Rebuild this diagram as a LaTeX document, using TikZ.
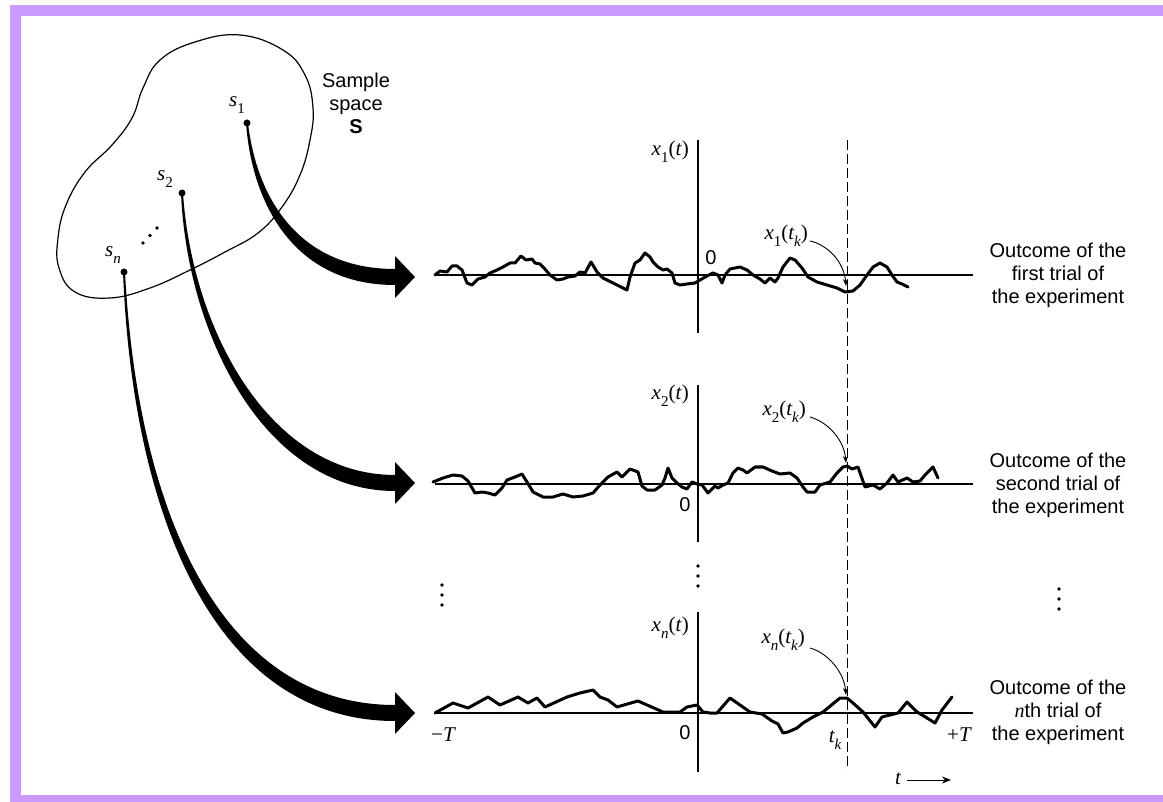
\documentclass[tikz,border=0pt]{standalone}
\usepackage{fontspec}
\setmainfont{Liberation Sans}
\newfontfamily\tms{Liberation Serif}
\usetikzlibrary{arrows.meta,calc}
\definecolor{framecol}{RGB}{204,153,255}
\newcommand{\mysub}[1]{\raisebox{-0.32em}{\fontsize{15}{15}\selectfont\upshape #1}}
% thick tapered arrow: #1 start node, #2 head-base coordinate, #3 dx1, #4 dy1, #5 dx2
\newcommand{\bigarrow}[5]{%
  \fill ($(#1)+(1,0)$) .. controls ($(#1)+(#3+2,#4)$) and ($(#2)+(-#5,-8)$) .. ($(#2)+(0,-8)$)
    -- ($(#2)+(0,-21)$) -- ($(#2)+(20,0)$) -- ($(#2)+(0,21)$) -- ($(#2)+(0,8)$)
    .. controls ($(#2)+(-#5-6,8)$) and ($(#1)+(#3-3,#4+4)$) .. ($(#1)+(-1,0)$) -- cycle;}
\begin{document}
\begin{tikzpicture}[x=1pt,y=-1pt,
  sans/.style={font=\fontsize{20}{23}\selectfont, align=center, inner sep=0pt},
  mlab/.style={font=\fontsize{21}{21}\selectfont\tms, inner sep=0pt},
  sdotbig/.style={circle, fill=black, inner sep=0pt, minimum size=7pt},
  sdot/.style={circle, fill=black, inner sep=0pt, minimum size=3.6pt},
  sig/.style={line width=3pt, line join=round, line cap=round},
  baseline/.style={line width=1.3pt},
  axis/.style={line width=1.5pt},
  thinarrow/.style={line width=0.9pt, -{Stealth[length=7pt,width=5pt]}},
]
\useasboundingbox (0,0) rectangle (1163,802);
\fill[white] (0,0) rectangle (1163,802);
\fill[framecol] (10,5) rectangle (1163,802);
\fill[white] (21,16) rectangle (1163,795);

% sample space blob
\draw[line width=1.2pt] plot[smooth cycle, tension=0.7] coordinates {
 (240,35) (283,50) (305,75) (313,108) (310,140) (300,175) (282,207) (258,233)
 (225,252) (190,270) (150,288) (110,298) (75,292) (59,268) (58,238) (66,205)
 (85,172) (112,145) (132,118) (143,88) (160,60) (195,42)};

\node[sans] (ss) at (356,103) {Sample\\space\\\textbf{S}};

% sample points
\node[sdotbig] (s1) at (247,123) {};
\node[sdotbig] (s2) at (182,193) {};
\node[sdotbig] (sn) at (124,272) {};
\node[mlab] (ls1) at (237,105) {\itshape s\mysub{1}};
\node[mlab] (ls2) at (165,179) {\itshape s\mysub{2}};
\node[mlab] (lsn) at (113,255) {\itshape s\mysub{\itshape n}};
\node[sdot] (e1) at (143,243) {};
\node[sdot] (e2) at (150,235.5) {};
\node[sdot] (e3) at (157,228) {};

% head coordinates
\coordinate (h1) at (395,277);
\coordinate (h2) at (395,483);
\coordinate (hn) at (395,713);
\bigarrow{s1}{h1}{8}{77}{95}
\bigarrow{s2}{h2}{8}{137}{125}
\bigarrow{sn}{hn}{12}{248}{170}

% axes
\draw[baseline] (435,275) -- (973,275);
\draw[baseline] (435,484) -- (973,484);
\draw[baseline] (435,713) -- (973,713);
\draw[axis] (698,140) -- (698,333);
\draw[axis] (698,385) -- (698,542);
\draw[axis] (698,612) -- (698,772);
\draw[line width=1pt, dash pattern=on 10pt off 4pt] (847,140) -- (847,770);

% sample functions
\draw[sig] plot coordinates {
(435,275) (440,271) (447,272) (452,266) (457,266) (462,270) (467,283) (472,285) (478,279) (485,277) (490,273) (497,270) (503,267) (510,263) (515,263) (521,256) (526,260) (532,259) (535,263) (540,264) (544,268) (550,275) (557,280) (563,279) (568,277) (575,276) (580,272) (585,273) (591,262) (597,272) (603,278) (613,283) (627,290) (630,277) (635,263) (640,260) (645,253) (650,257) (653,262) (658,267) (663,270) (667,269) (672,273) (675,283) (680,285) (687,284) (695,283) (700,280) (707,276) (713,273) (718,275) (722,283) (725,275) (730,269) (740,267) (747,270) (753,275) (760,279) (765,283) (770,278) (775,282) (778,278) (783,267) (790,258) (795,260) (802,268) (808,277) (817,282) (827,285) (837,288) (845,292) (853,291) (860,285) (867,275) (873,267) (880,263) (887,267) (892,275) (897,282) (902,284) (908,287)};
\draw[sig] plot coordinates {
(433,482) (443,478) (453,475) (462,476) (468,481) (475,493) (482,492) (488,493) (495,495) (502,488) (507,480) (515,477) (522,474) (527,482) (533,492) (543,497) (553,497) (563,494) (573,497) (583,496) (593,493) (600,485) (608,477) (617,472) (622,477) (630,469) (638,472) (642,486) (647,490) (655,490) (662,485) (665,478) (668,468) (672,478) (677,483) (682,487) (687,489) (692,482) (697,484) (702,485) (708,493) (715,486) (718,488) (723,485) (728,483) (733,473) (738,468) (743,470) (747,473) (755,467) (763,467) (772,471) (780,474) (790,473) (797,478) (803,487) (807,492) (815,492) (820,485) (830,482) (837,473) (843,467) (847,466) (852,469) (858,467) (865,487) (873,485) (880,489) (887,483) (893,475) (898,482) (907,478) (913,482) (920,481) (925,475) (933,467) (938,478)};
\draw[sig] plot coordinates {
(435,713) (453,703) (468,708) (488,697) (500,705) (518,697) (528,703) (537,698) (545,707) (567,697) (580,693) (593,690) (600,697) (608,700) (617,707) (638,701) (663,712) (680,712) (687,707) (697,705) (703,712) (710,713) (717,713) (730,698) (750,712) (762,714) (772,721) (778,724) (783,733) (788,732) (797,728) (803,723) (813,717) (823,712) (840,698) (847,698) (853,703) (863,712) (875,727) (882,717) (890,715) (898,713) (907,702) (917,712) (927,718) (935,723) (942,710) (952,697)};

% axis labels
\node[mlab, anchor=east] (x1t) at (689,152) {\itshape x\mysub{1}\upshape(\itshape t\/\upshape)};
\node[mlab, anchor=east] (x2t) at (689,396) {\itshape x\mysub{2}\upshape(\itshape t\/\upshape)};
\node[mlab, anchor=east] (xnt) at (689,628) {\itshape x\mysub{\itshape n}\upshape(\itshape t\/\upshape)};
\node[sans] (z1) at (711,258) {0};
\node[sans] (z2) at (685,505) {0};
\node[sans] (zn) at (685,733) {0};
\node[mlab] (mT) at (443,735) {−\itshape T};
\node[mlab] (pT) at (959,735) {+\itshape T};
\node[mlab] (tk) at (835,740) {\itshape t\mysub{\itshape k}};

% value labels and pointers
\node[mlab, anchor=east] (l1) at (808,236) {\itshape x\mysub{1}\upshape(\itshape t\mysub{\itshape k}\upshape)};
\node[mlab, anchor=east] (l2) at (806,412) {\itshape x\mysub{2}\upshape(\itshape t\mysub{\itshape k}\upshape)};
\node[mlab, anchor=east] (ln) at (805,640) {\itshape x\mysub{\itshape n}\upshape(\itshape t\mysub{\itshape k}\upshape)};
\coordinate (p1) at (846,286);
\coordinate (p2) at (846,463);
\coordinate (pn) at (846,695);
\draw[thinarrow] ($(l1.east)+(2,5)$) .. controls ($(l1.east)+(20,9)$) and ($(p1)+(-2,-24)$) .. (p1);
\draw[thinarrow] ($(l2.east)+(4,5)$) .. controls ($(l2.east)+(22,10)$) and ($(p2)+(-2,-23)$) .. (p2);
\draw[thinarrow] ($(ln.east)+(5,8)$) .. controls ($(ln.east)+(23,13)$) and ($(pn)+(-2,-23)$) .. (pn);

% outcome texts
\node[sans] (o1) at (1058,275) {Outcome of the\\first trial of\\the experiment};
\node[sans] (o2) at (1058,485) {Outcome of the\\second trial of\\the experiment};
\node[sans] (o3) at (1058,712) {Outcome of the\\{\tms\itshape n}th trial of\\the experiment};

% vertical ellipses
\foreach \yy [count=\i] in {585,595,605} \node[sdot] (va\i) at (442,\yy) {};
\foreach \yy [count=\i] in {566,576,586} \node[sdot] (vb\i) at (698,\yy) {};
\foreach \yy [count=\i] in {589,599,609} \node[sdot] (vc\i) at (1059,\yy) {};

% time arrow
\node[mlab] (tt) at (898,779) {\itshape t};
\coordinate (tend) at (951,780);
\draw[line width=1pt, -{Stealth[length=9pt,width=7pt]}] ($(tt.east)+(6,1)$) -- (tend);
\end{tikzpicture}
\end{document}
